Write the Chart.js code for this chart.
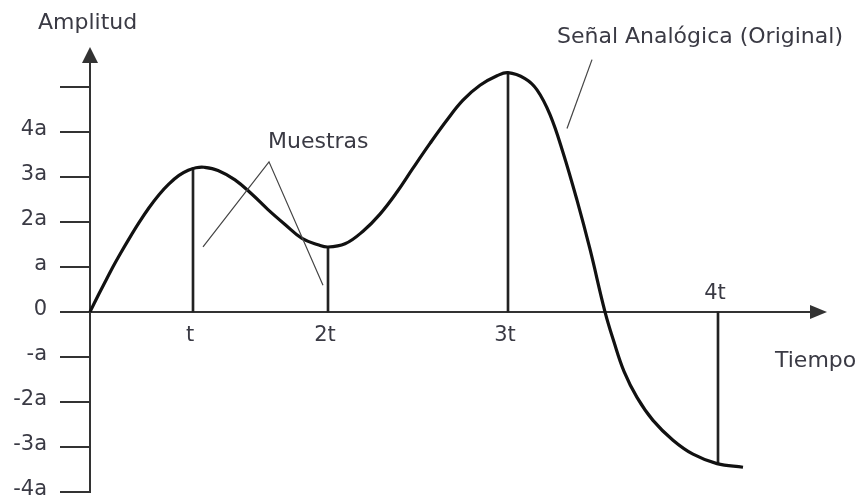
<!DOCTYPE html>
<html>
<head>
<meta charset="utf-8">
<title>Señal Analógica</title>
<script src="https://cdn.jsdelivr.net/npm/chart.js@4.4.1/dist/chart.umd.min.js"></script>
<style>
  html, body { margin: 0; padding: 0; background: #fff; }
  canvas { display: block; }
</style>
</head>
<body>
<canvas id="signal" width="857" height="498"></canvas>
<script>
// señal analógica: tiempo y amplitud (en unidades de "a")
const signalTime = [0, 0.09, 0.16, 0.23, 0.29, 0.39, 0.49, 0.59, 0.69, 0.79, 0.89, 0.99, 1.06, 1.14,
  1.28, 1.45, 1.62, 1.78, 1.95, 2.12, 2.28, 2.38, 2.55, 2.73, 2.90, 3.07, 3.23, 3.40, 3.57, 3.73,
  3.90, 4.07, 4.18, 4.35, 4.47, 4.60, 4.73, 4.87, 5.00, 5.15, 5.24, 5.34, 5.47, 5.63, 5.83, 6.03,
  6.27, 6.53];
const signalAmp = [0, 0.40, 0.70, 1.00, 1.24, 1.62, 1.98, 2.31, 2.60, 2.84, 3.03, 3.15, 3.20, 3.21,
  3.14, 2.93, 2.61, 2.27, 1.94, 1.63, 1.49, 1.44, 1.51, 1.79, 2.17, 2.66, 3.19, 3.74, 4.26, 4.70,
  5.03, 5.24, 5.31, 5.18, 4.93, 4.38, 3.54, 2.48, 1.39, 0, -0.67, -1.32, -1.90, -2.41, -2.85, -3.16,
  -3.37, -3.45];

// muestras tomadas en t, 2t, 3t y 4t
const sampleTime = [1.03, 2.38, 4.18, 6.28];
const sampleAmp = [3.20, 1.44, 5.31, -3.37];
const sampleLabels = ['t', '2t', '3t', '4t'];

// marcas del eje de amplitud
const ampTicks = [-4, -3, -2, -1, 0, 1, 2, 3, 4, 5];
const ampTickLabels = ['-4a', '-3a', '-2a', '-a', '0', 'a', '2a', '3a', '4a', ''];

const TICK_FONT = '21px "DejaVu Sans"';
const TITLE_FONT = '22px "DejaVu Sans"';
const TEXT_COLOR = '#3a3a44';
const AXIS_COLOR = '#333';

// flechas que señalan las muestras y la señal (en coordenadas de los datos)
const muestrasPointer = [[1.13, 1.44], [1.79, 3.33], [2.33, 0.59]];
const senalPointer = [[5.02, 5.60], [4.77, 4.07]];

const axesPlugin = {
  id: 'ejes',
  beforeDatasetsDraw(chart) {
    const ctx = chart.ctx;
    const xs = chart.scales.x, ys = chart.scales.y;
    const ox = xs.getPixelForValue(0), oy = Math.round(ys.getPixelForValue(0));
    const top = chart.chartArea.top, right = chart.chartArea.right;
    const bottom = Math.round(ys.getPixelForValue(ampTicks[0]));

    ctx.save();
    ctx.strokeStyle = AXIS_COLOR;
    ctx.lineWidth = 2;
    ctx.beginPath();
    ctx.moveTo(ox, top + 12);
    ctx.lineTo(ox, bottom + 1);
    ctx.moveTo(ox, oy);
    ctx.lineTo(right - 12, oy);
    ampTicks.forEach(function (v) {
      const py = Math.round(ys.getPixelForValue(v));
      ctx.moveTo(ox - 30, py);
      ctx.lineTo(ox + 1, py);
    });
    ctx.stroke();

    // puntas de flecha
    ctx.fillStyle = AXIS_COLOR;
    ctx.beginPath();
    ctx.moveTo(ox, top);
    ctx.lineTo(ox - 8, top + 16);
    ctx.lineTo(ox + 8, top + 16);
    ctx.closePath();
    ctx.fill();
    ctx.beginPath();
    ctx.moveTo(right, oy);
    ctx.lineTo(right - 17, oy - 7);
    ctx.lineTo(right - 17, oy + 7);
    ctx.closePath();
    ctx.fill();
    ctx.restore();
  },
  afterDatasetsDraw(chart) {
    const ctx = chart.ctx;
    const xs = chart.scales.x, ys = chart.scales.y;
    const ox = xs.getPixelForValue(0), oy = ys.getPixelForValue(0);
    const top = chart.chartArea.top, right = chart.chartArea.right;
    const px = function (p) { return [xs.getPixelForValue(p[0]), ys.getPixelForValue(p[1])]; };

    ctx.save();
    ctx.font = TICK_FONT;
    ctx.fillStyle = TEXT_COLOR;

    // etiquetas del eje vertical
    ctx.textAlign = 'right';
    ctx.textBaseline = 'middle';
    ampTicks.forEach(function (v, i) {
      ctx.fillText(ampTickLabels[i], ox - 43, ys.getPixelForValue(v) - 2);
    });

    // etiquetas de los instantes de muestreo
    ctx.textAlign = 'center';
    ctx.textBaseline = 'alphabetic';
    sampleTime.forEach(function (t, i) {
      const y = sampleAmp[i] < 0 ? oy - 13 : oy + 29;
      ctx.fillText(sampleLabels[i], xs.getPixelForValue(t) - 3, y);
    });

    // títulos de los ejes
    ctx.font = TITLE_FONT;
    ctx.textAlign = 'left';
    ctx.fillText('Amplitud', ox - 52, top - 18);
    ctx.fillText('Tiempo', right - 52, oy + 55);

    // anotaciones
    ctx.fillText('Muestras', xs.getPixelForValue(1.78), ys.getPixelForValue(3.63));
    ctx.fillText('Señal Analógica (Original)', xs.getPixelForValue(4.67), ys.getPixelForValue(5.97));

    ctx.strokeStyle = '#444';
    ctx.lineWidth = 1.2;
    [muestrasPointer, senalPointer].forEach(function (line) {
      ctx.beginPath();
      line.forEach(function (p, i) {
        const q = px(p);
        if (i === 0) ctx.moveTo(q[0], q[1]); else ctx.lineTo(q[0], q[1]);
      });
      ctx.stroke();
    });
    ctx.restore();
  }
};

new Chart(document.getElementById('signal'), {
  type: 'line',
  data: {
    datasets: [
      {
        type: 'line',
        label: 'Señal Analógica (Original)',
        data: signalTime.map(function (t, i) { return { x: t, y: signalAmp[i] }; }),
        borderColor: '#111',
        borderWidth: 3.2,
        pointRadius: 0,
        tension: 0.4,
        clip: false,
        order: 0
      },
      {
        type: 'bar',
        label: 'Muestras',
        data: sampleTime.map(function (t, i) { return { x: t, y: sampleAmp[i] }; }),
        backgroundColor: '#222',
        barThickness: 2,
        order: 1
      }
    ]
  },
  options: {
    responsive: false,
    animation: false,
    events: [],
    layout: { padding: { left: 90, right: 30, top: 47, bottom: 6 } },
    plugins: { legend: { display: false }, tooltip: { enabled: false } },
    scales: {
      x: { type: 'linear', min: 0, max: 7.37, display: false, offset: false },
      y: { type: 'linear', min: -4, max: 5.88, display: false }
    }
  },
  plugins: [axesPlugin]
});
</script>
</body>
</html>
